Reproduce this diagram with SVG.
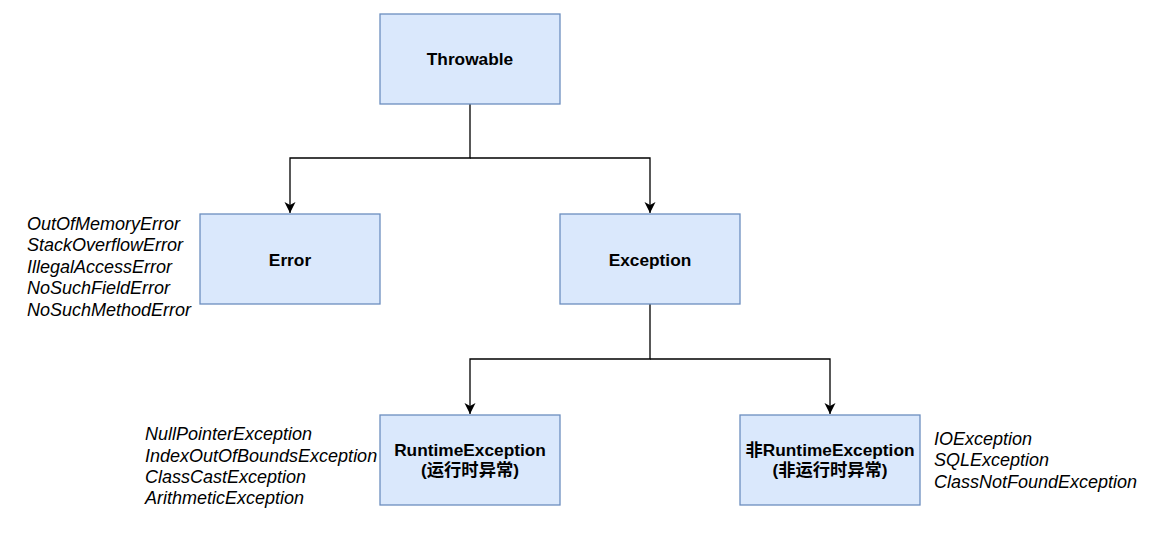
<svg xmlns="http://www.w3.org/2000/svg" width="1165" height="536" viewBox="0 0 1165 536">
<style>
.box{fill:#dae8fc;stroke:#6c8ebf;stroke-width:1.3}
.lbl{font-family:"Liberation Sans","Noto Sans CJK SC",sans-serif;font-weight:bold;font-size:17.3px;fill:#000;text-anchor:middle}
.it{font-family:"Liberation Sans",sans-serif;font-style:italic;font-size:18px;fill:#000}
.edge{fill:none;stroke:#000;stroke-width:1.3}
</style>
<defs>
<marker id="arr" markerWidth="12" markerHeight="12" refX="11" refY="6" orient="auto" markerUnits="userSpaceOnUse">
<path d="M0,0.5 L11,6 L0,11.5 L3,6 Z" fill="#000"/>
</marker>
</defs>
<rect width="1165" height="536" fill="#fff"/>
<g id="connectors">
<path class="edge" d="M470,104 V158 H290 V213" marker-end="url(#arr)"/>
<path class="edge" d="M470,158 H650 V213" marker-end="url(#arr)"/>
<path class="edge" d="M650,304 V359 H470 V414" marker-end="url(#arr)"/>
<path class="edge" d="M650,359 H830 V414" marker-end="url(#arr)"/>
</g>
<g id="throwable"><rect class="box" x="380" y="14" width="180" height="90"/><text class="lbl" x="470" y="65">Throwable</text></g>
<g id="error"><rect class="box" x="200" y="214" width="180" height="90"/><text class="lbl" x="290" y="266">Error</text></g>
<g id="exception"><rect class="box" x="560" y="214" width="180" height="90"/><text class="lbl" x="650" y="266">Exception</text></g>
<g id="runtime"><rect class="box" x="380" y="415" width="180" height="90"/><text class="lbl" x="470" y="456">RuntimeException</text><text class="lbl" x="470" y="476">(运行时异常)</text></g>
<g id="nonruntime"><rect class="box" x="740" y="415" width="180" height="90"/><text class="lbl" x="830" y="456">非RuntimeException</text><text class="lbl" x="830" y="476">(非运行时异常)</text></g>
<g id="error-list">
<text class="it" x="27" y="230">OutOfMemoryError</text>
<text class="it" x="27" y="251">StackOverflowError</text>
<text class="it" x="27" y="273">IllegalAccessError</text>
<text class="it" x="27" y="294">NoSuchFieldError</text>
<text class="it" x="27" y="316">NoSuchMethodError</text>
</g>
<g id="runtime-list">
<text class="it" x="145" y="440">NullPointerException</text>
<text class="it" x="145" y="462">IndexOutOfBoundsException</text>
<text class="it" x="145" y="483">ClassCastException</text>
<text class="it" x="145" y="504">ArithmeticException</text>
</g>
<g id="checked-list">
<text class="it" x="934" y="445">IOException</text>
<text class="it" x="934" y="466">SQLException</text>
<text class="it" x="934" y="488">ClassNotFoundException</text>
</g>
</svg>
